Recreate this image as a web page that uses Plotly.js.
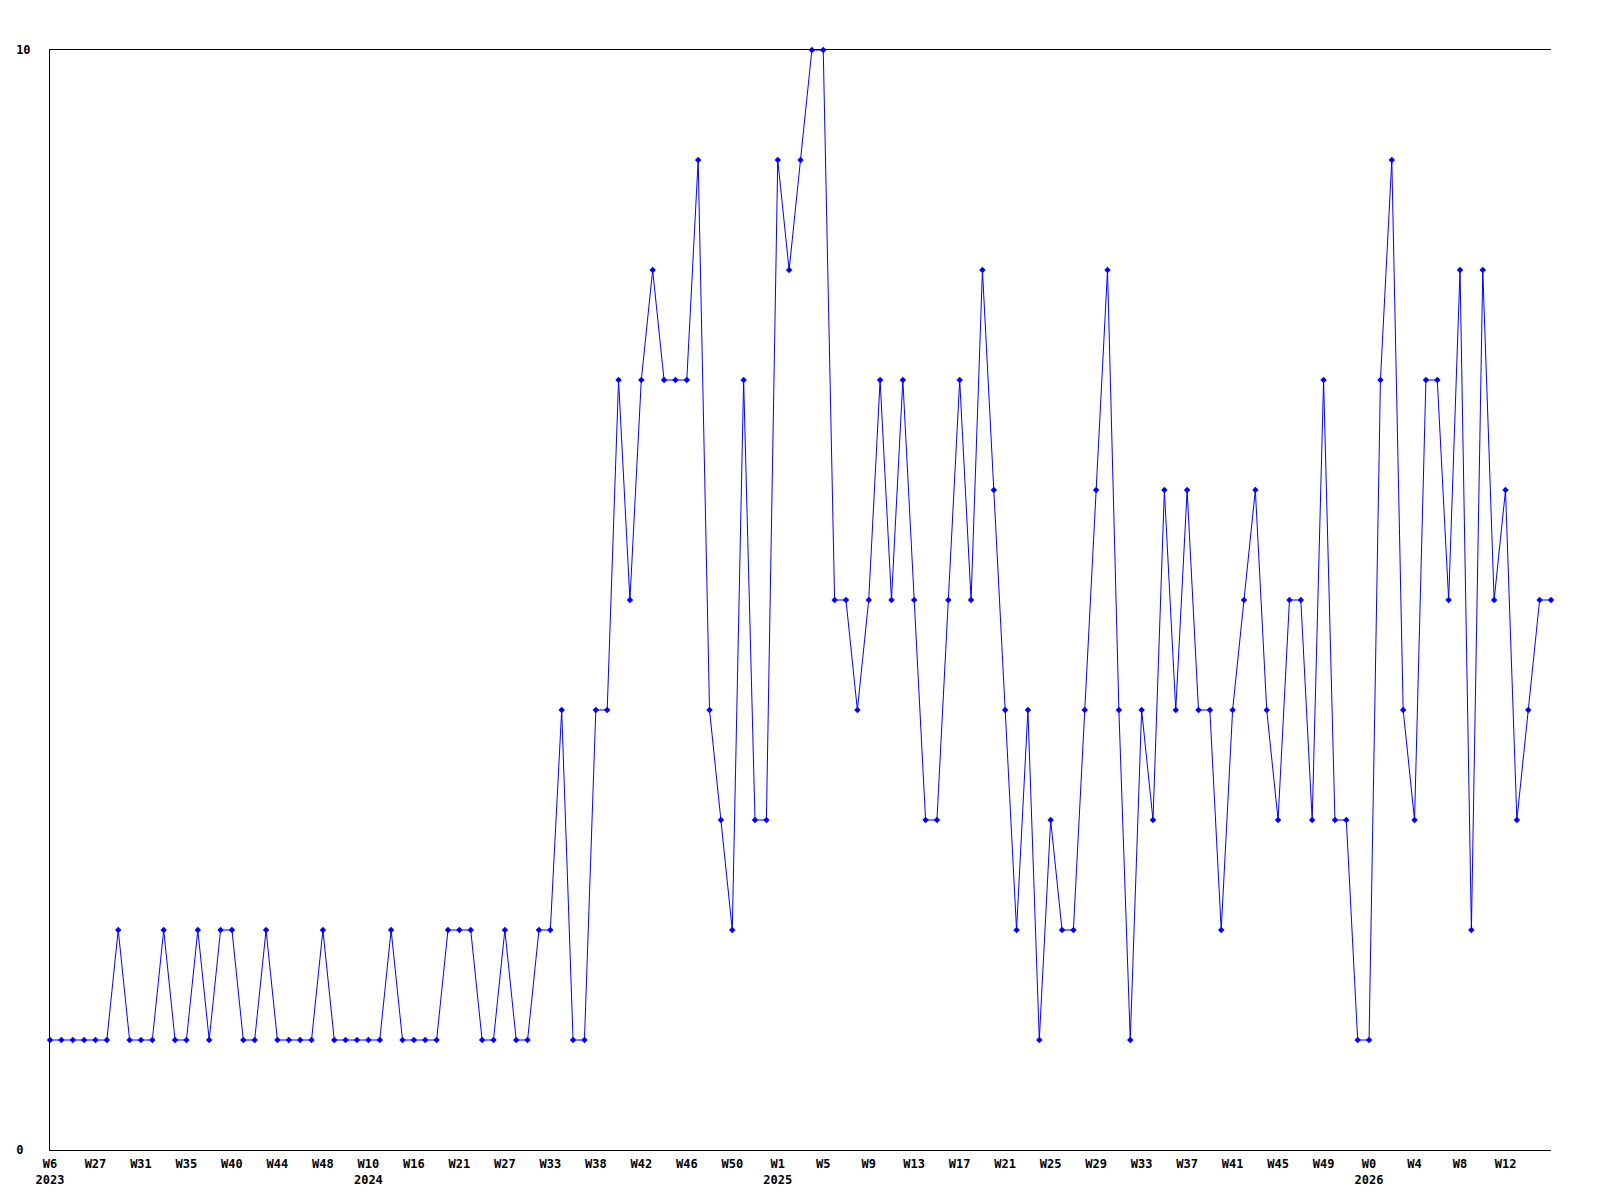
<!DOCTYPE html>
<html>
<head>
<meta charset="utf-8">
<script src="https://cdn.plot.ly/plotly-3.0.1.min.js"></script>
<style>
  html, body { margin: 0; padding: 0; background: #ffffff; }
  #chart { width: 1600px; height: 1200px; }
</style>
</head>
<body>
<div id="chart"></div>
<script>
// Weekly counts, one per category (in order)
const counts = [
  1,1,1,1,1,1,2,1,1,1,
  2,1,1,2,1,2,2,1,1,2,
  1,1,1,1,2,1,1,1,1,1,
  2,1,1,1,1,2,2,2,1,1,
  2,1,1,2,2,4,1,1,4,4,
  7,5,7,8,7,7,7,9,4,3,
  2,7,3,3,9,8,9,10,10,5,
  5,4,5,7,5,7,5,3,3,5,
  7,5,8,6,4,2,4,1,3,2,
  2,4,6,8,4,1,4,3,6,4,
  6,4,4,2,4,5,6,4,3,5,
  5,3,7,3,3,1,1,7,9,4,
  3,7,7,5,8,2,8,5,6,3,
  4,5,5
];

// X tick labels (one label every 4th category)
const weekLabels = ["W6","W27","W31","W35","W40","W44","W48","W10","W16","W21","W27",
  "W33","W38","W42","W46","W50","W1","W5","W9","W13","W17","W21","W25","W29","W33",
  "W37","W41","W45","W49","W0","W4","W8","W12"];
const yearLabels = ["2023","","","","","","","2024","","","","","","","","","2025",
  "","","","","","","","","","","","","2026","","",""];
const labelStep = 4;

// Y tick labels
const yTickVals = [0, 10];
const yTickText = ["0\u00a0", "10"];

const xIdx = counts.map((_, i) => i);
const tickVals = weekLabels.map((_, k) => k * labelStep);
const tickText = weekLabels.map((w, k) => yearLabels[k] ? (w + "<br>" + yearLabels[k]) : w);

const font = { family: "DejaVu Sans Mono, Liberation Mono, monospace", size: 12, color: "#000000", weight: "bold" };

const trace = {
  x: xIdx,
  y: counts,
  type: "scatter",
  mode: "lines+markers",
  line: { color: "#0000ff", width: 1 },
  marker: { color: "#0000ff", symbol: "diamond", size: 5 },
  cliponaxis: false,
  hoverinfo: "x+y"
};

const layout = {
  width: 1600,
  height: 1200,
  paper_bgcolor: "#ffffff",
  plot_bgcolor: "#ffffff",
  margin: { l: 50, r: 49, t: 50, b: 50, pad: 0 },
  showlegend: false,
  font: font,
  xaxis: {
    range: [0, counts.length - 1],
    tickmode: "array",
    tickvals: tickVals,
    ticktext: tickText,
    showgrid: false,
    zeroline: false,
    showline: true,
    mirror: true,
    linecolor: "#000000",
    linewidth: 1,
    ticks: "",
    ticklabelstandoff: 3,
    tickfont: font,
    fixedrange: true
  },
  yaxis: {
    range: [0, 10],
    tickmode: "array",
    tickvals: yTickVals,
    ticktext: yTickText,
    showgrid: false,
    zeroline: false,
    showline: true,
    linecolor: "#000000",
    linewidth: 1,
    ticks: "",
    ticklabelstandoff: 16,
    tickfont: font,
    fixedrange: true
  }
};

Plotly.newPlot("chart", [trace], layout, { displayModeBar: false, staticPlot: true });
</script>
</body>
</html>
